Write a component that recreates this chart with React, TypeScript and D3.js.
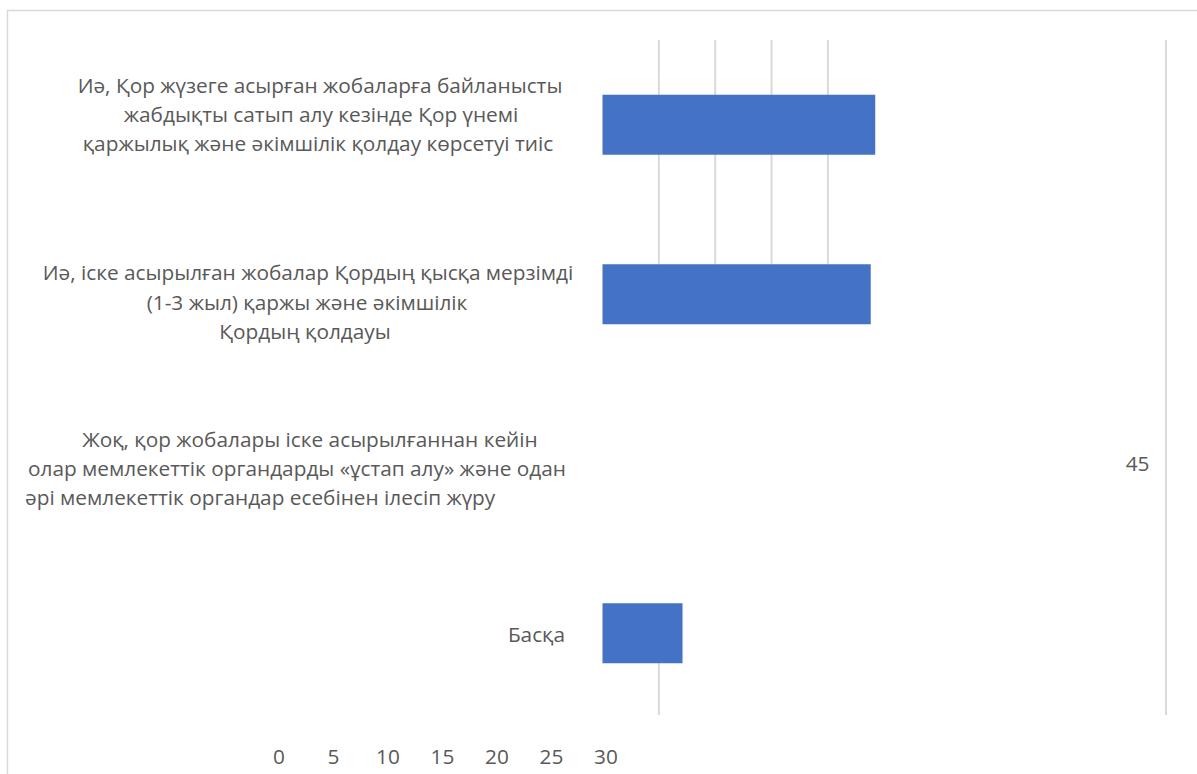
import React from "react";
import * as d3 from "d3";

const categoryLines: string[][] = [
  [
    "Иә, Қор жүзеге асырған жобаларға байланысты",
    "жабдықты сатып алу кезінде Қор үнемі",
    "қаржылық және әкімшілік қолдау көрсетуі тиіс",
  ],
  [
    "Иә, іске асырылған жобалар Қордың қысқа мерзімді",
    "(1-3 жыл) қаржы және әкімшілік",
    "Қордың қолдауы",
  ],
  [
    "Жоқ, қор жобалары іске асырылғаннан кейін",
    "олар мемлекеттік органдарды «ұстап алу» және одан",
    "әрі мемлекеттік органдар есебінен ілесіп жүру",
  ],
  ["Басқа"],
];
const values: number[] = [24.2, 23.8, 45, 7.1];
const barVisible: boolean[] = [true, true, false, true];
const axisTickLabels: number[] = [0, 5, 10, 15, 20, 25, 30];
const gridTicks: number[] = [5, 10, 15, 20];
const gridMax = 50;

const W = 1197;
const H = 774;
const FONT = "'Open Sans', 'Noto Sans', sans-serif";
const TEXT = "#595959";
const BAR = "#4472C4";
const GRID = "#d9d9d9";
const FS = 20.8;

// per-label layout (Excel-rendered quirks)
const labelLayout = [
  { dy: -10, lines: [{ anchor: "middle", x: 320 }, { anchor: "middle", x: 321 }, { anchor: "middle", x: 318 }] },
  { dy: 8, lines: [{ anchor: "middle", x: 308 }, { anchor: "middle", x: 307 }, { anchor: "middle", x: 305 }] },
  { dy: 5, lines: [{ anchor: "middle", x: 310 }, { anchor: "start", x: 28 }, { anchor: "start", x: 25 }] },
  { dy: 1, lines: [{ anchor: "end", x: 565 }] },
];

export default function App() {
  const x = d3.scaleLinear().domain([0, gridMax]).range([602.5, 1166]);
  const y = d3
    .scalePoint<number>()
    .domain(d3.range(categoryLines.length))
    .range([40, 718])
    .padding(0.5);
  const barH = 60;
  const plotTop = 40;
  const plotBottom = 715;
  const axisX = d3.scaleLinear().domain([0, 30]).range([279, 606]);
  const lineH = 29.3;

  const bar2Top = (y(1) as number) - barH / 2;
  const bar4Bottom = (y(3) as number) + barH / 2;

  return (
    <svg
      width={W}
      height={H}
      style={{ position: "absolute", left: 0, top: 0, background: "#fff" }}
      fontFamily={FONT}
    >
      <rect x={0} y={0} width={W} height={H} fill="#fff" />
      <rect x={7.5} y={10.5} width={W + 20} height={H + 20} fill="none" stroke={GRID} strokeWidth={1.5} />

      {/* gridlines */}
      {gridTicks.map((t) => (
        <line key={"g" + t} x1={x(t)} x2={x(t)} y1={plotTop} y2={bar2Top} stroke={GRID} strokeWidth={2} />
      ))}
      <line x1={x(gridTicks[0])} x2={x(gridTicks[0])} y1={bar4Bottom} y2={plotBottom} stroke={GRID} strokeWidth={2} />
      <line x1={x(gridMax)} x2={x(gridMax)} y1={plotTop} y2={plotBottom} stroke={GRID} strokeWidth={2} />

      {/* bars */}
      {values.map((v, i) =>
        barVisible[i] ? (
          <rect
            key={"b" + i}
            x={x(0)}
            y={(y(i) as number) - barH / 2}
            width={x(v) - x(0)}
            height={barH}
            fill={BAR}
          />
        ) : (
          <text
            key={"v" + i}
            x={x(v) + 16}
            y={y(i) as number}
            dy="0.35em"
            fontSize={FS}
            fill={TEXT}
          >
            {v}
          </text>
        )
      )}

      {/* category labels */}
      {categoryLines.map((lines, i) => {
        const cy = (y(i) as number) + labelLayout[i].dy;
        const start = cy - ((lines.length - 1) * lineH) / 2;
        return (
          <g key={"l" + i}>
            {lines.map((ln, j) => (
              <text
                key={j}
                x={labelLayout[i].lines[j].x}
                y={start + j * lineH}
                dy="0.35em"
                textAnchor={labelLayout[i].lines[j].anchor as any}
                fontSize={FS}
                fill={TEXT}
              >
                {ln}
              </text>
            ))}
          </g>
        );
      })}

      {/* bottom axis labels */}
      {axisTickLabels.map((t) => (
        <text
          key={"a" + t}
          x={axisX(t)}
          y={757}
          dy="0.35em"
          textAnchor="middle"
          fontSize={FS}
          fill={TEXT}
        >
          {t}
        </text>
      ))}
    </svg>
  );
}
